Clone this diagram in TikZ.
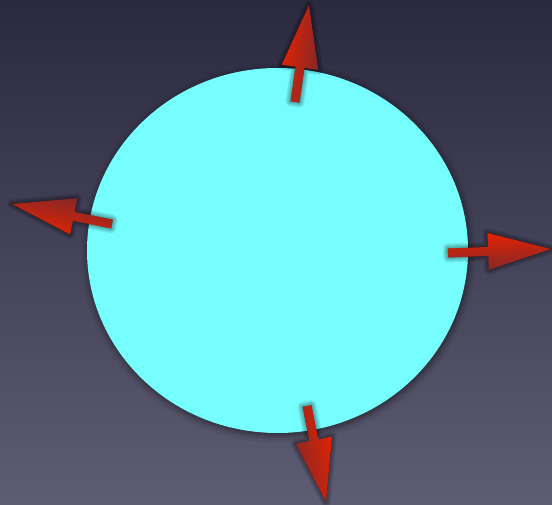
\documentclass[tikz,border=0pt]{standalone}
\usetikzlibrary{calc,shadows.blur}
\definecolor{bgtop}{RGB}{42,41,64}
\definecolor{bgbot}{RGB}{94,92,114}
\definecolor{ballcyan}{RGB}{118,254,254}
\definecolor{arrbright}{RGB}{232,34,0}
\definecolor{arrdark}{RGB}{128,40,42}
\tikzset{
  ball/.style={fill=ballcyan, blur shadow={shadow xshift=1pt, shadow yshift=-2pt, shadow blur radius=7pt, shadow opacity=60}},
  arrowbody/.style={top color=arrbright, bottom color=arrdark},
  arrowshade/.style={draw=black, fill=black, line join=round, opacity=0.07, line width=#1}
}
\newcommand\arrpath[1]{%
  ($(#1b)!4.5pt!90:(#1t)$) -- ($(#1h)!4.5pt!-90:(#1b)$) -- ($(#1h)!18.5pt!-90:(#1b)$)
  -- (#1t) -- ($(#1h)!18.5pt!90:(#1b)$) -- ($(#1h)!4.5pt!90:(#1b)$)
  -- ($(#1b)!4.5pt!-90:(#1t)$) -- cycle}
% #1 name, #2 tail, #3 tip, #4 direction angle
\newcommand\redarrow[4]{%
  \coordinate (#1b) at #2;
  \coordinate (#1t) at #3;
  \coordinate (#1h) at ($(#1t)!63pt!(#1b)$);
  \begin{scope}[shift={(1pt,-2pt)}]
    \foreach \w in {10pt,8pt,6pt,4pt,2pt,0.1pt}{
      \path[arrowshade=\w] \arrpath{#1};
    }
  \end{scope}
  \path[arrowbody, shading angle=#4] \arrpath{#1};
}
\begin{document}
\begin{tikzpicture}[x=1pt,y=1pt]
  \useasboundingbox (0,0) rectangle (552,504);
  \shade[top color=bgtop, bottom color=bgbot] (0,0) rectangle (552,504);
  \path[ball] (277.5,253.5) ellipse [x radius=190.5, y radius=182.5];
  \coordinate (ballcenter) at (277.5,253.5);
  \redarrow{up}{(295,402)}{(309,499)}{81.8}
  \redarrow{lf}{(112,280)}{(12,300)}{168.7}
  \redarrow{rt}{(448,251)}{(551,255)}{2.2}
  \redarrow{dn}{(307,98)}{(326,2)}{-78.8}
\end{tikzpicture}
\end{document}
